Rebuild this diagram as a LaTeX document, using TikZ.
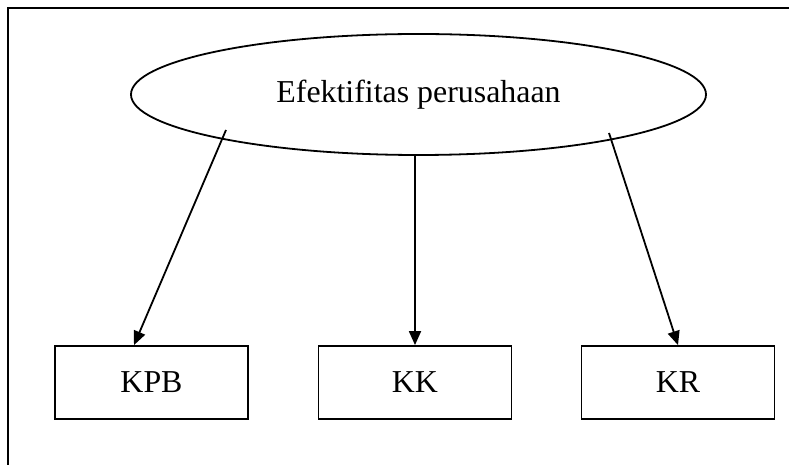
\documentclass[tikz,border=0pt]{standalone}
\usepackage{fontspec}
\setmainfont{Liberation Serif}
\usetikzlibrary{shapes.geometric,arrows.meta}
\begin{document}
\begin{tikzpicture}[x=1bp,y=-1bp,
  every node/.style={font=\fontsize{32}{35}\selectfont},
  oval/.style={ellipse,draw,line width=1.8bp,minimum width=575bp,minimum height=121bp,inner sep=0pt},
  boxnode/.style={rectangle,draw,line width=1.8bp,minimum width=193bp,minimum height=73bp,inner sep=0pt},
  conn/.style={line width=1.8bp,-{Triangle[length=14bp,width=12bp]}},
  frame/.style={line width=1.8bp}]
\useasboundingbox (0,0) rectangle (789,465);
\coordinate (fl) at (8,465);
\coordinate (ftl) at (8,8);
\coordinate (fr) at (789,8);
\draw[frame] (fl) -- (ftl) -- (fr);
\node[oval] (E) at (418.5,94.5) {Efektifitas perusahaan};
\node[boxnode] (kpb) at (151.5,382.5) {KPB};
\node[boxnode] (kk) at (415,382.5) {KK};
\node[boxnode] (kr) at (678,382.5) {KR};
\coordinate (s1) at (226,130);
\coordinate (s3) at (609,133);
\draw[conn] (s1) -- ([xshift=-17.5bp]kpb.north);
\draw[conn] (E.south -| kk.north) -- (kk.north);
\draw[conn] (s3) -- (kr.north);
\end{tikzpicture}
\end{document}
